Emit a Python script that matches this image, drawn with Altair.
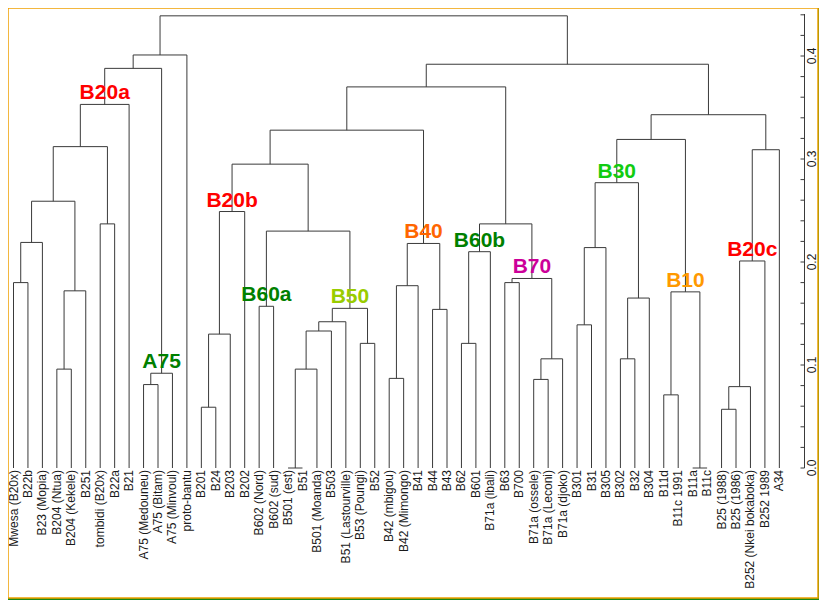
import altair as alt
import pandas as pd

# ---------------- data ----------------
leaves = ["Mwesa (B20x)", "B22b", "B23 (Mopia)", "B204 (Ntua)", "B204 (Kekele)", "B251",
          "tombidi (B20x)", "B22a", "B21", "A75 (Medouneu)", "A75 (Bitam)", "A75 (Minvoul)",
          "proto-bantu", "B201", "B24", "B203", "B202", "B602 (Nord)", "B602 (sud)",
          "B501 (est)", "B51", "B501 (Moanda)", "B503", "B51 (Lastourville)", "B53 (Poungi)",
          "B52", "B42 (mbigou)", "B42 (Mimongo)", "B41", "B44", "B43", "B62", "B601",
          "B71a (ibali)", "B63", "B700", "B71a (ossele)", "B71a (Leconi)", "B71a (djoko)",
          "B301", "B31", "B305", "B302", "B32", "B304", "B11d", "B11c 1991", "B11a", "B11c",
          "B25 (1988)", "B25 (1986)", "B252 (Nkei bokaboka)", "B252 1989", "A34"]

# hclust-style merges: negative = leaf (1-based), positive = earlier merge (1-based)
merge_left = [-20, -48, -50, -14, -46, 3, -10, -37, -27, 7, -4, 1, -43, 8, -32, -25, 4, 12,
              -40, 18, -30, 20, -18, 13, 5, 11, 9, -1, -35, 29, 6, 15, 19, 27, 28, 23, -7,
              32, 17, 35, 33, 39, 31, 40, 41, 42, 45, 44, 46, 48, 49, 50, 52]
merge_right = [-21, -49, -51, -15, -47, -52, -11, -38, -28, -12, -5, -22, -44, -39, -33, -26,
               -16, -23, -41, -24, -31, 16, -19, -45, 2, -6, -29, -2, -36, 14, -53, -34, -42,
               21, -3, 22, -8, 30, -17, 26, 24, 36, -54, 37, 25, 34, 43, -9, 38, 10, 47, -13, 51]
merge_height = [0.0, 0.0, 0.057, 0.059, 0.071, 0.079, 0.081, 0.086, 0.087, 0.092, 0.096,
                0.096, 0.106, 0.106, 0.121, 0.121, 0.130, 0.133, 0.139, 0.142, 0.154, 0.155,
                0.157, 0.165, 0.171, 0.172, 0.177, 0.180, 0.180, 0.184, 0.201, 0.210, 0.214,
                0.218, 0.219, 0.230, 0.237, 0.237, 0.249, 0.259, 0.277, 0.295, 0.309, 0.312,
                0.319, 0.328, 0.343, 0.353, 0.370, 0.388, 0.392, 0.401, 0.439]

group_names = ["B20a", "A75", "B20b", "B60a", "B50", "B40", "B60b", "B70", "B30", "B10", "B20c"]
group_nodes = [48, 10, 39, 23, 22, 34, 32, 30, 41, 25, 31]
group_colors = ["#ff0000", "#008000", "#ff0000", "#008000", "#99cc00", "#ff6600",
                "#008000", "#cc0099", "#11cc11", "#ff9900", "#ff0000"]

tick_values = [round(0.02 * k, 2) for k in range(23)]
label_values = [0.0, 0.1, 0.2, 0.3, 0.4]
label_texts = ["0.0", "0.1", "0.2", "0.3", "0.4"]

# ---------------- build dendrogram segments ----------------
node_x = []
segs = []


def pos(ref):
    if ref < 0:
        return float(-ref), 0.0
    return node_x[ref - 1], merge_height[ref - 1]


for a, b, h in zip(merge_left, merge_right, merge_height):
    xa, ha = pos(a)
    xb, hb = pos(b)
    node_x.append((xa + xb) / 2)
    segs.append(dict(x=xa, x2=xa, y=ha, y2=h))
    segs.append(dict(x=xb, x2=xb, y=hb, y2=h))
    segs.append(dict(x=xa, x2=xb, y=h, y2=h))

seg_df = pd.DataFrame(segs)
leaf_df = pd.DataFrame({"i": list(range(1, len(leaves) + 1)), "label": leaves})
grp_df = pd.DataFrame({
    "name": group_names,
    "x": [node_x[n - 1] for n in group_nodes],
    "h": [merge_height[n - 1] for n in group_nodes],
    "color": group_colors,
})
tick_df = pd.DataFrame({"v": tick_values})
lab_df = pd.DataFrame({"v": label_values, "t": label_texts})

# ---------------- scales ----------------
W, H = 810, 590
STEP = 14.45
X0 = 5.5  # pixel of first leaf inside the plot area
xs = alt.Scale(domain=[1 - X0 / STEP, 1 + (W - X0) / STEP], nice=False, zero=False)
ys = alt.Scale(domain=[(460 - H) / 1030, 460 / 1030], nice=False, zero=False)
FONT = "Liberation Sans, Arial, Helvetica, sans-serif"
LINE = "#3a3a3a"

tree = alt.Chart(seg_df).mark_rule(color=LINE, strokeWidth=1).encode(
    x=alt.X("x:Q", scale=xs, axis=None),
    x2="x2:Q",
    y=alt.Y("y:Q", scale=ys, axis=None),
    y2="y2:Q",
)

leaf_text = alt.Chart(leaf_df).mark_text(
    angle=270, align="right", baseline="middle", fontSize=12, font=FONT,
    color="#1a1a1a", yOffset=2,
).encode(
    x=alt.X("i:Q", scale=xs, axis=None),
    y=alt.datum(0, scale=ys, axis=None),
    text="label:N",
)

grp_text = alt.Chart(grp_df).mark_text(
    fontSize=21, fontWeight="bold", font=FONT, baseline="alphabetic", align="center", dy=-5,
).encode(
    x=alt.X("x:Q", scale=xs, axis=None),
    y=alt.Y("h:Q", scale=ys, axis=None),
    text="name:N",
    color=alt.Color("color:N", scale=None),
)

AX = 796.5  # axis line pixel inside the plot area

axis_line = alt.Chart(tick_df).mark_rule(color=LINE, strokeWidth=1).encode(
    x=alt.value(AX),
    y=alt.datum(0.0, scale=ys, axis=None),
    y2=alt.datum(0.44),
)

axis_ticks = alt.Chart(tick_df).mark_rule(color=LINE, strokeWidth=1).encode(
    x=alt.value(AX - 4),
    x2=alt.value(AX),
    y=alt.Y("v:Q", scale=ys, axis=None),
)

axis_labels = alt.Chart(lab_df).mark_text(
    angle=270, align="center", baseline="middle", fontSize=12, font=FONT, color="#1a1a1a",
).encode(
    x=alt.value(AX + 7),
    y=alt.Y("v:Q", scale=ys, axis=None),
    text="t:N",
)

chart = alt.layer(tree, leaf_text, grp_text, axis_line, axis_ticks, axis_labels).properties(
    width=W, height=H,
    autosize=alt.AutoSizeParams(type="none"),
    padding={"left": 0, "top": 0, "right": 1, "bottom": 2},
    background="#178a17",
).configure_view(
    fill="white", stroke="#f0a000", strokeWidth=1.5,
)

chart.save("out.html", embed_options={"renderer": "svg", "actions": False})
